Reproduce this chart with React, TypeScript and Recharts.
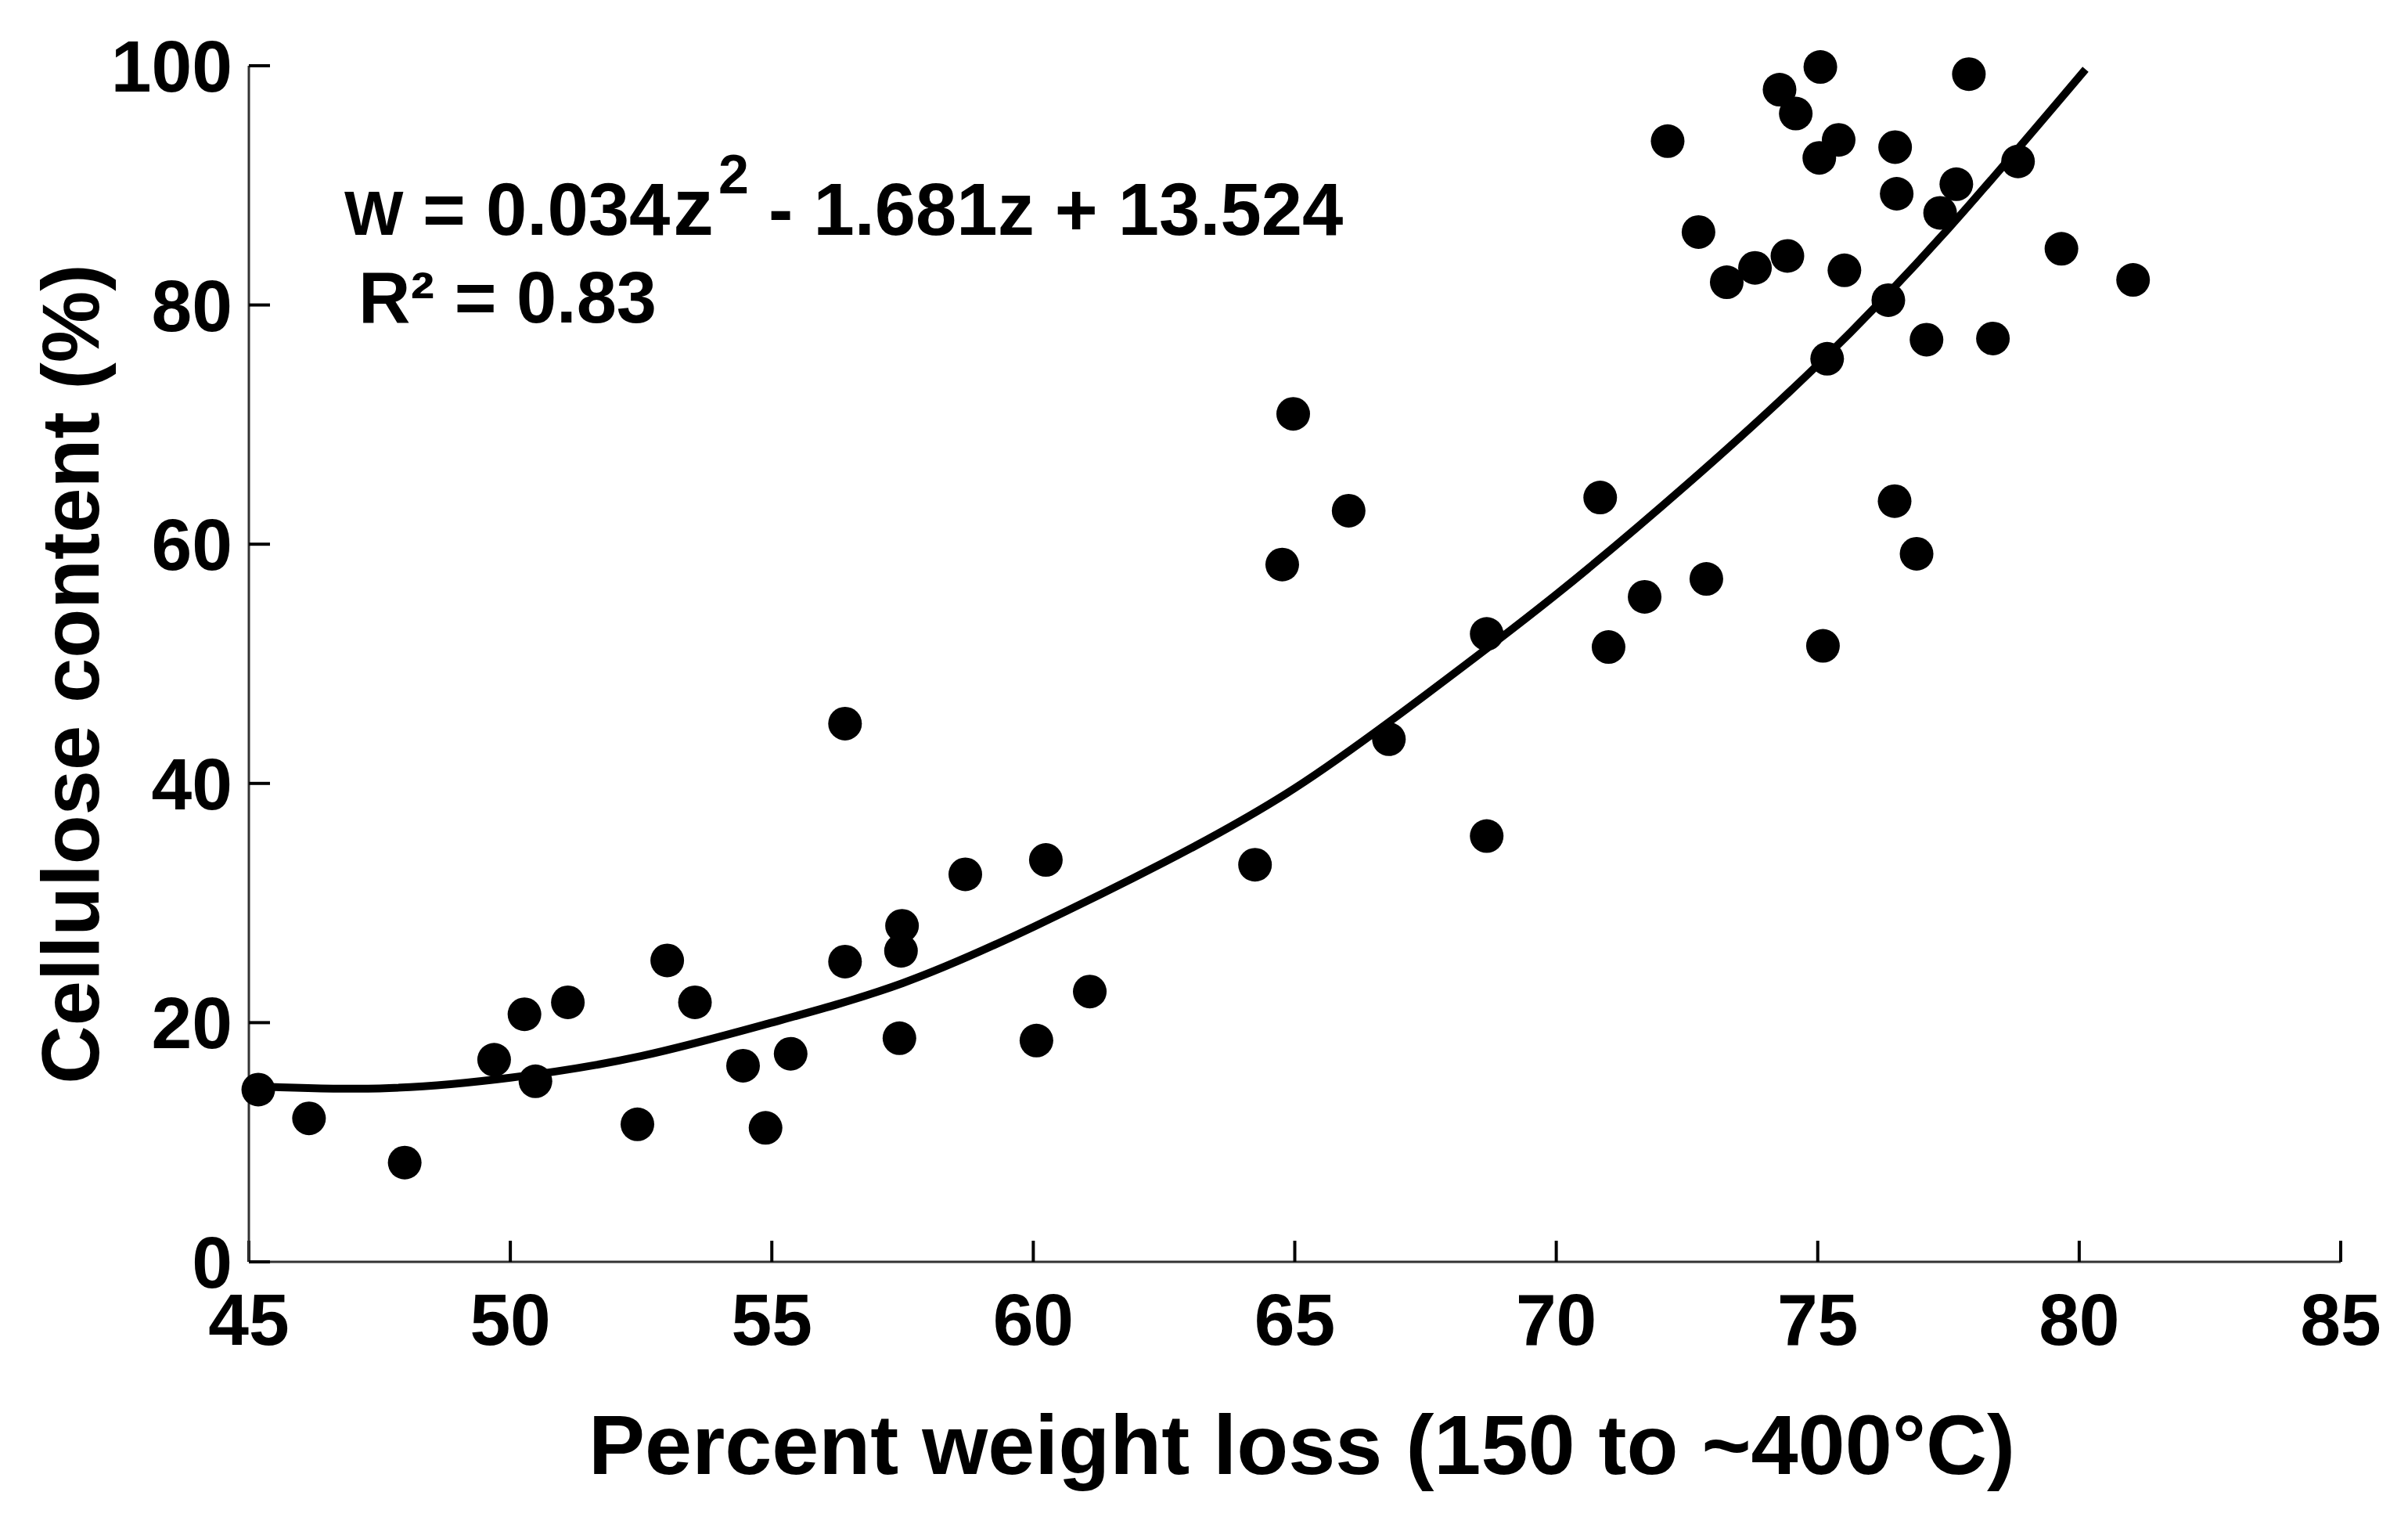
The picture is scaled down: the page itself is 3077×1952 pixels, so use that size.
import React from 'react';
import { ComposedChart, Scatter, Line, XAxis, YAxis, Label } from 'recharts';

// measured samples: percent weight loss (x) and cellulose content (y)
const weightLoss = [
  45.18, 46.15, 47.98, 49.69, 50.27, 50.48, 51.1, 52.43, 53.0, 53.53,
  54.45, 54.88, 55.36, 56.4, 56.4, 57.44, 57.47, 57.49, 58.7, 60.06,
  60.24, 61.08, 64.24, 64.76, 64.97, 66.03, 66.8, 68.67, 68.67, 70.84,
  71.0, 71.69, 72.13, 72.72, 72.87, 73.26, 73.8, 74.27, 74.42, 74.58,
  75.03, 75.05, 75.1, 75.18, 75.4, 75.51, 76.35, 76.47, 76.48, 76.51,
  76.89, 77.08, 77.34, 77.65, 77.89, 78.35, 78.83, 79.66, 81.03,
];
const cellulose = [
  14.4, 12.0, 8.3, 16.9, 20.7, 15.1, 21.7, 11.5, 25.2, 21.7,
  16.4, 11.2, 17.4, 25.1, 45.0, 18.7, 26.0, 28.1, 32.4, 18.5,
  33.6, 22.6, 33.2, 58.3, 70.9, 62.8, 43.7, 52.5, 35.6, 63.9,
  51.4, 55.6, 93.7, 86.1, 57.1, 81.9, 83.1, 98.0, 84.1, 96.0,
  92.3, 99.9, 51.5, 75.5, 93.8, 82.9, 80.4, 63.6, 93.2, 89.3,
  59.2, 77.1, 87.7, 90.1, 99.3, 77.2, 92.0, 84.7, 82.1,
];

// fitted curve
const fitX = [45, 47.5, 50, 52.5, 55, 57.5, 60, 62.5, 65, 67.5, 70, 72.5, 75, 77.5, 80.12];
const fitY = [14.7, 14.5, 15.4, 17.2, 20.0, 23.3, 28.0, 33.4, 39.6, 47.4, 55.8, 65.0, 75.0, 86.4, 99.7];

const xTicks = [45, 50, 55, 60, 65, 70, 75, 80, 85];
const yTicks = [0, 20, 40, 60, 80, 100];

const points = weightLoss.map((x, i) => ({ x, y: cellulose[i] }));
const fitLine = fitX.map((x, i) => ({ x, y: fitY[i] }));

const FONT = 'Liberation Sans, Arial, Helvetica, sans-serif';
const tickStyle = { fontSize: 93, fontWeight: 'bold', fill: '#000', fontFamily: FONT };

const Dot = (props: any) => <circle cx={props.cx} cy={props.cy} r={21.5} fill="#000" />;

export default function App() {
  return (
    <div style={{ position: 'absolute', left: 0, top: 0, width: 3077, height: 1952, background: '#fff' }}>
      <ComposedChart width={3077} height={1952} margin={{ top: 84, right: 86, bottom: 0, left: 0 }}>
        <XAxis
          type="number"
          dataKey="x"
          domain={[45, 85]}
          ticks={xTicks}
          interval={0}
          height={340}
          tickSize={-27}
          tickMargin={67}
          axisLine={{ stroke: '#333', strokeWidth: 3 }}
          tickLine={{ stroke: '#000', strokeWidth: 4 }}
          tick={tickStyle}
        >
          <Label
            value="Percent weight loss (150 to ~400°C)"
            position="insideBottom"
            offset={69}
            dx={9}
            style={{ fontSize: 108, fontWeight: 'bold', fill: '#000', fontFamily: FONT }}
          />
        </XAxis>
        <YAxis
          type="number"
          dataKey="y"
          domain={[0, 100]}
          ticks={yTicks}
          interval={0}
          width={318}
          tickSize={-27}
          tickMargin={48}
          axisLine={{ stroke: '#333', strokeWidth: 3 }}
          tickLine={{ stroke: '#000', strokeWidth: 4 }}
          tick={tickStyle}
        >
          <Label
            content={() => (
              <text
                x={126}
                y={861}
                transform="rotate(-90 126 861)"
                textAnchor="middle"
                fontSize={103}
                fontWeight="bold"
                fontFamily={FONT}
                fill="#000"
              >
                Cellulose content (%)
              </text>
            )}
          />
        </YAxis>
        <Line
          data={fitLine}
          dataKey="y"
          type="natural"
          stroke="#000"
          strokeWidth={10}
          dot={false}
          activeDot={false}
          isAnimationActive={false}
        />
        <Scatter data={points} fill="#000" shape={Dot} isAnimationActive={false} />
      </ComposedChart>

      {/* fit equation */}
      <svg
        width={3077}
        height={1952}
        style={{ position: 'absolute', left: 0, top: 0, pointerEvents: 'none' }}
      >
        <text fontFamily={FONT} fontWeight="bold" fill="#000" fontSize={94} y={300}>
          <tspan x={440} fontSize={80}>W</tspan>
          <tspan x={540}>= 0.034</tspan>
          <tspan x={860} fontSize={104}>z</tspan>
          <tspan x={918} y={247} fontSize={70}>2</tspan>
          <tspan x={982} y={300}>- 1.681z + 13.524</tspan>
        </text>
        <text x={458} y={412} fontFamily={FONT} fontWeight="bold" fill="#000" fontSize={92}>
          R² = 0.83
        </text>
      </svg>
    </div>
  );
}
